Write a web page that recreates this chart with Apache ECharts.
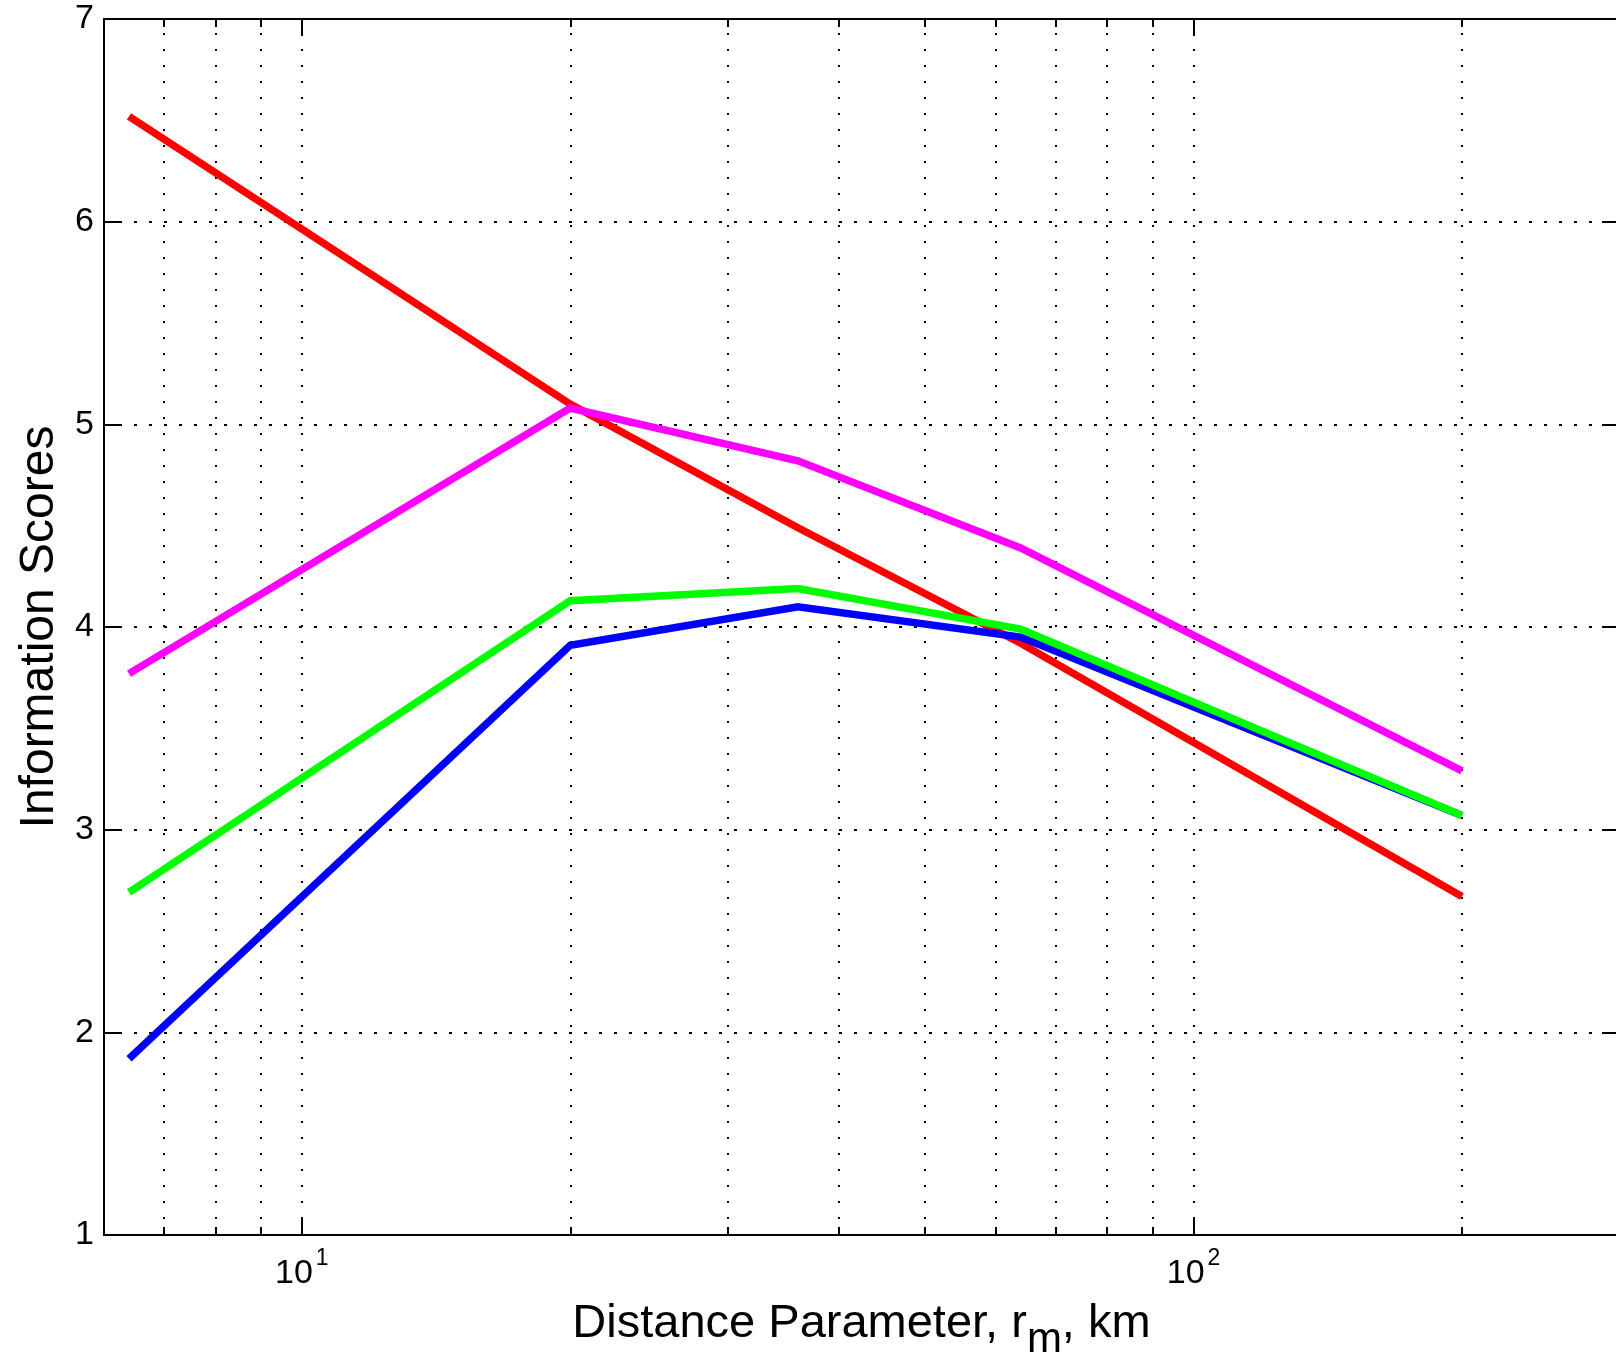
<!DOCTYPE html>
<html>
<head>
<meta charset="utf-8">
<script src="https://cdn.jsdelivr.net/npm/echarts@6/dist/echarts.min.js"></script>
<style>
html,body{margin:0;padding:0;background:#fff;}
#chart{width:1616px;height:1367px;}
</style>
</head>
<body>
<div id="chart"></div>
<script>
// Data
const distances = [6.4, 20, 36, 64, 200];
const redScores = [6.52, 5.10, 4.49, 3.92, 2.67];
const blueScores = [1.87, 3.91, 4.10, 3.95, 3.07];
const greenScores = [2.69, 4.13, 4.19, 3.99, 3.07];
const magentaScores = [3.77, 5.08, 4.82, 4.39, 3.29];

const majorX = [10, 100];
const minorX = [7, 8, 9, 20, 30, 40, 50, 60, 70, 80, 90, 200];
const gridX = [7, 8, 9, 10, 20, 30, 40, 50, 60, 70, 80, 90, 100, 200];
const gridY = [2, 3, 4, 5, 6];
const xMin = 6, xMax = 300, yMin = 1, yMax = 7;

const FONT = "'Liberation Sans', Arial, Helvetica, sans-serif";

function pairs(xs, ys) { return xs.map((x, i) => [x, ys[i]]); }

const chart = echarts.init(document.getElementById('chart'), null, {renderer: 'canvas'});

const axisLineStyle = {color: '#000', width: 2};
function xAx(pos, tickVals, len, showLine, showLabel) {
  return {
    type: 'log', logBase: 10, min: xMin, max: xMax, position: pos,
    gridIndex: 0,
    axisLine: {show: showLine, onZero: false, lineStyle: axisLineStyle},
    axisTick: {show: true, inside: true, length: len, customValues: tickVals, lineStyle: {color: '#000', width: 2}},
    axisLabel: showLabel ? {
      show: true, customValues: majorX, margin: 12, fontFamily: FONT, color: '#000',
      formatter: function (v) {
        const e = Math.round(Math.log10(v));
        return '{b|10}{s|' + e + '}';
      },
      rich: {
        b: {fontSize: 34, lineHeight: 44, fontFamily: FONT, color: '#000', verticalAlign: 'bottom'},
        s: {fontSize: 23, lineHeight: 24, fontFamily: FONT, color: '#000', verticalAlign: 'top', padding: [0, 0, 0, 3]}
      }
    } : {show: false},
    splitLine: {show: false},
    minorTick: {show: false}
  };
}

const xAxes = [
  xAx('bottom', majorX, 17, true, true),
  xAx('bottom', minorX, 8, false, false),
  xAx('top', majorX, 17, true, false),
  xAx('top', minorX, 8, false, false)
];
xAxes[0].name = '{t|Distance Parameter, r}{m|m}{t|, km}';
xAxes[0].nameLocation = 'middle';
xAxes[0].nameGap = 66;
xAxes[0].nameMoveOverlap = false;
xAxes[0].nameTextStyle = {
  fontFamily: FONT, color: '#000', verticalAlign: 'top',
  rich: {
    t: {fontSize: 47, lineHeight: 60, fontFamily: FONT, color: '#000', verticalAlign: 'top', padding: [0, 0, 33, 0]},
    m: {fontSize: 42, lineHeight: 20, fontFamily: FONT, color: '#000', verticalAlign: 'bottom'}
  }
};

function yAx(pos, showLabel) {
  return {
    type: 'value', min: yMin, max: yMax, interval: 1, position: pos,
    axisLine: {show: true, onZero: false, lineStyle: axisLineStyle},
    axisTick: {show: true, inside: true, length: 17, lineStyle: {color: '#000', width: 2}},
    axisLabel: {show: showLabel, fontSize: 34, fontFamily: FONT, color: '#000', margin: 10},
    splitLine: {show: false}
  };
}
const yAxes = [yAx('left', true), yAx('right', false)];
yAxes[0].name = 'Information Scores';
yAxes[0].nameLocation = 'middle';
yAxes[0].nameGap = 31;
yAxes[0].nameTextStyle = {fontSize: 48, fontFamily: FONT, color: '#000'};

function lineSeries(name, color, ys) {
  return {
    name: name, type: 'line', xAxisIndex: 0, yAxisIndex: 0,
    data: pairs(distances, ys), showSymbol: false, symbol: 'none',
    lineStyle: {color: color, width: 7.5, cap: 'butt', join: 'miter'},
    itemStyle: {color: color},
    z: 3, animation: false, silent: true
  };
}

const gridLines = [];
gridX.forEach(v => gridLines.push({xAxis: v, lineStyle: {type: [2, 14], color: '#000', width: 2}}));
gridY.forEach(v => gridLines.push({yAxis: v, lineStyle: {type: [3, 12], color: '#000', width: 2}}));

const option = {
  backgroundColor: '#fff',
  animation: false,
  grid: {left: 104, top: 19, width: 1515, height: 1216, containLabel: false, outerBoundsMode: 'none'},
  xAxis: xAxes,
  yAxis: yAxes,
  series: [
    {
      type: 'line', xAxisIndex: 0, yAxisIndex: 0, data: [], symbol: 'none', silent: true,
      markLine: {
        silent: true, symbol: ['none', 'none'], z: 1, animation: false,
        label: {show: false},
        lineStyle: {color: '#000', width: 2},
        data: gridLines
      }
    },
    lineSeries('red', '#ff0000', redScores),
    lineSeries('blue', '#0000ff', blueScores),
    lineSeries('green', '#00ff00', greenScores),
    lineSeries('magenta', '#ff00ff', magentaScores)
  ]
};
chart.setOption(option);
</script>
</body>
</html>
